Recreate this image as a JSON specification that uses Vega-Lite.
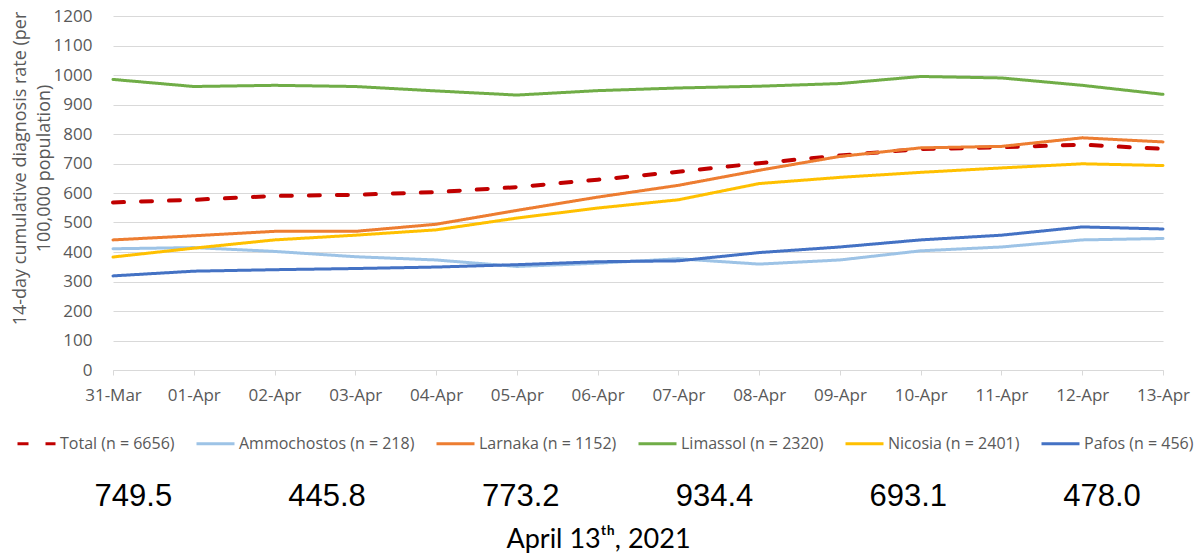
{
  "$schema": "https://vega.github.io/schema/vega-lite/v6.json",
  "width": 1050,
  "height": 354,
  "autosize": {"type": "none"},
  "padding": {"left": 113, "top": 16, "right": 41, "bottom": 184},
  "background": "white",
  "config": {"view": {"stroke": null}, "font": "Open Sans"},
  "data": {"values": [
    {"date": "31-Mar", "Total (n = 6656)": 568, "Ammochostos (n = 218)": 411, "Larnaka (n = 1152)": 441, "Limassol (n = 2320)": 985, "Nicosia (n = 2401)": 383, "Pafos (n = 456)": 319},
    {"date": "01-Apr", "Total (n = 6656)": 577, "Ammochostos (n = 218)": 415, "Larnaka (n = 1152)": 455, "Limassol (n = 2320)": 961, "Nicosia (n = 2401)": 413, "Pafos (n = 456)": 335},
    {"date": "02-Apr", "Total (n = 6656)": 590, "Ammochostos (n = 218)": 402, "Larnaka (n = 1152)": 470, "Limassol (n = 2320)": 965, "Nicosia (n = 2401)": 441, "Pafos (n = 456)": 340},
    {"date": "03-Apr", "Total (n = 6656)": 594, "Ammochostos (n = 218)": 384, "Larnaka (n = 1152)": 470, "Limassol (n = 2320)": 961, "Nicosia (n = 2401)": 457, "Pafos (n = 456)": 344},
    {"date": "04-Apr", "Total (n = 6656)": 603, "Ammochostos (n = 218)": 373, "Larnaka (n = 1152)": 494, "Limassol (n = 2320)": 946, "Nicosia (n = 2401)": 475, "Pafos (n = 456)": 349},
    {"date": "05-Apr", "Total (n = 6656)": 620, "Ammochostos (n = 218)": 351, "Larnaka (n = 1152)": 541, "Limassol (n = 2320)": 932, "Nicosia (n = 2401)": 515, "Pafos (n = 456)": 357},
    {"date": "06-Apr", "Total (n = 6656)": 645, "Ammochostos (n = 218)": 362, "Larnaka (n = 1152)": 586, "Limassol (n = 2320)": 947, "Nicosia (n = 2401)": 549, "Pafos (n = 456)": 367},
    {"date": "07-Apr", "Total (n = 6656)": 672, "Ammochostos (n = 218)": 377, "Larnaka (n = 1152)": 626, "Limassol (n = 2320)": 956, "Nicosia (n = 2401)": 577, "Pafos (n = 456)": 370},
    {"date": "08-Apr", "Total (n = 6656)": 701, "Ammochostos (n = 218)": 359, "Larnaka (n = 1152)": 677, "Limassol (n = 2320)": 962, "Nicosia (n = 2401)": 632, "Pafos (n = 456)": 398},
    {"date": "09-Apr", "Total (n = 6656)": 727, "Ammochostos (n = 218)": 373, "Larnaka (n = 1152)": 724, "Limassol (n = 2320)": 971, "Nicosia (n = 2401)": 653, "Pafos (n = 456)": 417},
    {"date": "10-Apr", "Total (n = 6656)": 749, "Ammochostos (n = 218)": 404, "Larnaka (n = 1152)": 753, "Limassol (n = 2320)": 995, "Nicosia (n = 2401)": 670, "Pafos (n = 456)": 441},
    {"date": "11-Apr", "Total (n = 6656)": 755, "Ammochostos (n = 218)": 417, "Larnaka (n = 1152)": 758, "Limassol (n = 2320)": 990, "Nicosia (n = 2401)": 685, "Pafos (n = 456)": 457},
    {"date": "12-Apr", "Total (n = 6656)": 764, "Ammochostos (n = 218)": 441, "Larnaka (n = 1152)": 787, "Limassol (n = 2320)": 965, "Nicosia (n = 2401)": 699, "Pafos (n = 456)": 485},
    {"date": "13-Apr", "Total (n = 6656)": 749.5, "Ammochostos (n = 218)": 445.8, "Larnaka (n = 1152)": 773.2, "Limassol (n = 2320)": 934.4, "Nicosia (n = 2401)": 693.1, "Pafos (n = 456)": 478.0}
  ]},
  "transform": [
    {"fold": ["Total (n = 6656)", "Ammochostos (n = 218)", "Larnaka (n = 1152)", "Limassol (n = 2320)", "Nicosia (n = 2401)", "Pafos (n = 456)"], "as": ["series", "rate"]}
  ],
  "layer": [
    {
      "mark": {"type": "line", "strokeCap": "round", "strokeJoin": "round"},
      "encoding": {
        "x": {
          "field": "date", "type": "ordinal", "sort": null,
          "scale": {"type": "point", "padding": 0},
          "axis": {
            "title": "April 13ᵗʰ, 2021",
            "titleFont": "Lato", "titleFontSize": 27, "titleColor": "black", "titleFontWeight": "normal",
            "titleX": 485, "titleY": 177, "titleBaseline": "alphabetic", "titleAlign": "center", "titleAnchor": null,
            "labelAngle": 0, "labelFont": "Open Sans", "labelFontSize": 17, "labelColor": "#595959", "labelPadding": 12,
            "labelOverlap": false,
            "tickSize": 5, "tickColor": "#D9D9D9", "domainColor": "#D9D9D9", "grid": false
          }
        },
        "y": {
          "field": "rate", "type": "quantitative",
          "scale": {"domain": [0, 1200], "nice": false, "zero": true},
          "axis": {
            "title": ["14-day cumulative diagnosis rate (per", "100,000 population)"],
            "titleFont": "Open Sans", "titleFontSize": 18, "titleFontWeight": "normal", "titleColor": "#595959",
            "titleX": -102, "titleY": 152, "titleAngle": -90, "titleBaseline": "top", "titleAlign": "center", "titleLineHeight": 24,
            "values": [0, 100, 200, 300, 400, 500, 600, 700, 800, 900, 1000, 1100, 1200],
            "tickCount": 20,
            "format": "d", "labelOverlap": false,
            "labelFont": "Open Sans", "labelFontSize": 17, "labelColor": "#595959", "labelPadding": 21,
            "ticks": false, "tickSize": 0, "domain": false, "grid": true, "gridColor": "#D9D9D9", "gridWidth": 1
          }
        },
        "color": {
          "field": "series", "type": "nominal",
          "scale": {
            "domain": ["Total (n = 6656)", "Ammochostos (n = 218)", "Larnaka (n = 1152)", "Limassol (n = 2320)", "Nicosia (n = 2401)", "Pafos (n = 456)"],
            "range": ["#C00000", "#9DC3E6", "#ED7D31", "#70AD47", "#FFC000", "#4472C4"]
          },
          "legend": {
            "title": null, "orient": "none", "legendX": -97, "legendY": 407, "direction": "horizontal",
            "symbolType": "stroke", "symbolSize": 1444, "symbolStrokeWidth": 3,
            "labelFont": "Open Sans", "labelFontSize": 16, "labelColor": "#595959", "labelOffset": 3, "columnPadding": 15, "labelLimit": 400
          }
        },
        "strokeDash": {
          "field": "series", "type": "nominal",
          "scale": {
            "domain": ["Total (n = 6656)", "Ammochostos (n = 218)", "Larnaka (n = 1152)", "Limassol (n = 2320)", "Nicosia (n = 2401)", "Pafos (n = 456)"],
            "range": [[11, 17], [1, 0], [1, 0], [1, 0], [1, 0], [1, 0]]
          },
          "legend": {
            "title": null, "orient": "none", "legendX": -97, "legendY": 407, "direction": "horizontal",
            "symbolType": "stroke", "symbolSize": 1444, "symbolStrokeWidth": 3,
            "labelFont": "Open Sans", "labelFontSize": 16, "labelColor": "#595959", "labelOffset": 3, "columnPadding": 15, "labelLimit": 400
          }
        },
        "strokeWidth": {"condition": {"test": "datum.series === 'Total (n = 6656)'", "value": 4}, "value": 3}
      }
    },
    {
      "transform": [{"filter": "datum.date === '13-Apr'"}],
      "mark": {"type": "text", "font": "Liberation Sans", "fontSize": 31, "baseline": "alphabetic", "align": "center", "color": "black"},
      "encoding": {
        "x": {
          "field": "series", "type": "nominal", "sort": null,
          "scale": {"type": "point", "domain": ["Total (n = 6656)", "Ammochostos (n = 218)", "Larnaka (n = 1152)", "Limassol (n = 2320)", "Nicosia (n = 2401)", "Pafos (n = 456)"], "padding": 0.21, "align": 0.25},
          "axis": null
        },
        "y": {"datum": -461, "type": "quantitative", "scale": {"domain": [0, 1200], "nice": false, "zero": true}, "axis": null},
        "text": {"field": "rate", "type": "quantitative", "format": ".1f"}
      }
    }
  ],
  "resolve": {"scale": {"x": "independent", "y": "independent"}, "axis": {"x": "independent", "y": "independent"}}
}
